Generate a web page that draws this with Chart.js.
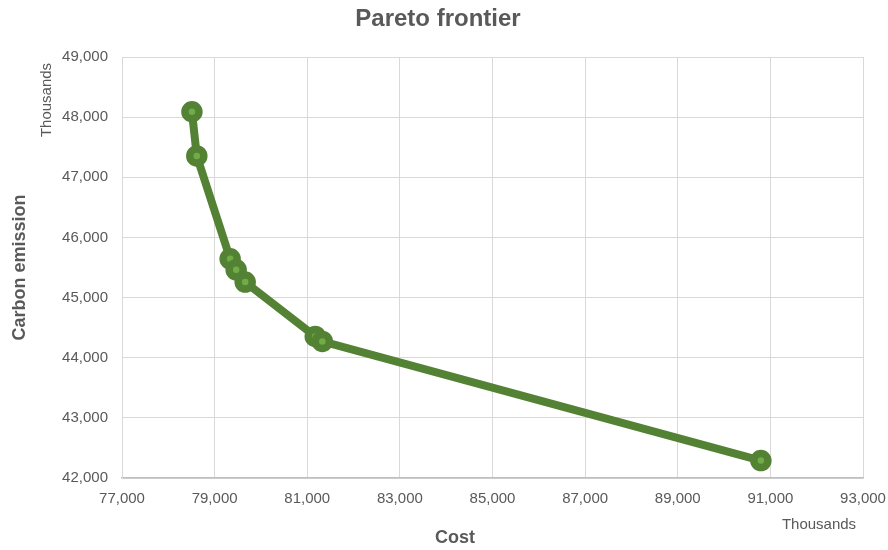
<!DOCTYPE html>
<html>
<head>
<meta charset="utf-8">
<script src="https://cdn.jsdelivr.net/npm/chart.js@4/dist/chart.umd.min.js"></script>
<style>
  html, body { margin: 0; padding: 0; background: #ffffff; }
  #wrap { width: 888px; height: 550px; }
</style>
</head>
<body>
<div id="wrap"><canvas id="chart" width="888" height="550"></canvas></div>
<script>
// Pareto frontier: cost vs carbon emission (both in thousands)
const costs     = [78510, 78615, 79335, 79465, 79660, 81173, 81325, 90795];
const emissions = [48090, 47355, 45645, 45462, 45257, 44354, 44270, 42289];

const xTickValues = [77000, 79000, 81000, 83000, 85000, 87000, 89000, 91000, 93000];
const yTickValues = [42000, 43000, 44000, 45000, 46000, 47000, 48000, 49000];

const chartTitle = 'Pareto frontier';
const xTitle = 'Cost';
const yTitle = 'Carbon emission';
const unitLabel = 'Thousands';

const TEXT = '#595959';
const FONT = '"Liberation Sans", Arial, sans-serif';

const points = costs.map((c, i) => ({ x: c, y: emissions[i] }));

// Chart title, axis titles and the "Thousands" display-unit labels
const labelsPlugin = {
  id: 'labels',
  afterDraw(chart) {
    const ctx = chart.ctx;
    const area = chart.chartArea;
    ctx.save();
    ctx.fillStyle = TEXT;
    ctx.textAlign = 'center';
    ctx.textBaseline = 'middle';

    ctx.font = 'bold 24px ' + FONT;
    ctx.fillText(chartTitle, 438, 19);

    ctx.font = 'bold 18px ' + FONT;
    ctx.fillText(xTitle, 455, 538);

    ctx.save();
    ctx.translate(20, (area.top + area.bottom) / 2);
    ctx.rotate(-Math.PI / 2);
    ctx.fillText(yTitle, 0, 0);
    ctx.restore();

    ctx.font = '15px ' + FONT;
    ctx.fillText(unitLabel, 819, 525);

    ctx.save();
    ctx.translate(47, 100);
    ctx.rotate(-Math.PI / 2);
    ctx.fillText(unitLabel, 0, 0);
    ctx.restore();

    ctx.restore();
  }
};

new Chart(document.getElementById('chart'), {
  type: 'scatter',
  data: {
    datasets: [{
      data: points,
      showLine: true,
      tension: 0,
      borderColor: '#548235',
      borderWidth: 8,
      pointRadius: 7,
      pointHoverRadius: 7,
      pointBorderWidth: 7.5,
      pointBackgroundColor: '#70AD47',
      pointBorderColor: '#548235',
      borderCapStyle: 'round',
      borderJoinStyle: 'round'
    }]
  },
  options: {
    responsive: false,
    animation: false,
    devicePixelRatio: 1,
    layout: { padding: { top: 57, right: 25, bottom: 0, left: 0 } },
    plugins: {
      legend: { display: false },
      title: { display: false },
      tooltip: { enabled: false }
    },
    scales: {
      x: {
        type: 'linear',
        min: 77000,
        max: 93000,
        afterFit(scale) {
          scale.height = 72;
          scale.paddingLeft = 0;
          scale.paddingRight = 0;
        },
        afterBuildTicks(scale) { scale.ticks = xTickValues.map(v => ({ value: v })); },
        ticks: {
          padding: 12,
          color: TEXT,
          font: { family: FONT, size: 15 },
          maxRotation: 0,
          autoSkip: false,
          callback: v => v.toLocaleString('en-US')
        },
        grid: { color: '#d9d9d9', lineWidth: 1, drawTicks: false },
        border: { color: '#bfbfbf', width: 1.5 }
      },
      y: {
        type: 'linear',
        min: 42000,
        max: 49000,
        afterFit(scale) {
          scale.width = 122;
          scale.paddingTop = 0;
          scale.paddingBottom = 0;
        },
        afterBuildTicks(scale) { scale.ticks = yTickValues.map(v => ({ value: v })); },
        ticks: {
          padding: 14,
          color: TEXT,
          font: { family: FONT, size: 15 },
          autoSkip: false,
          callback: v => v.toLocaleString('en-US')
        },
        grid: { color: '#d9d9d9', lineWidth: 1, drawTicks: false },
        border: { color: '#d9d9d9', width: 1 }
      }
    }
  },
  plugins: [labelsPlugin]
});
</script>
</body>
</html>
